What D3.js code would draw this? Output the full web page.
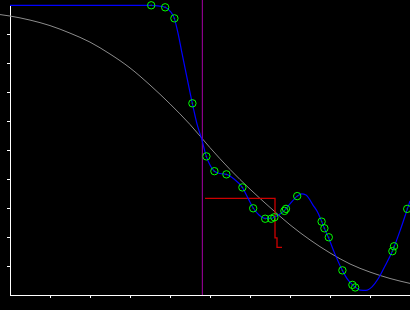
<!DOCTYPE html>
<html>
<head>
<meta charset="utf-8">
<script src="https://cdn.jsdelivr.net/npm/d3@7"></script>
<style>
  body { margin: 0; background: #000; }
  svg { display: block; }
</style>
</head>
<body>
<script>
// sample points (green circles)
var ptX = [3.53, 3.88, 4.11, 4.56, 4.91, 5.11, 5.41, 5.81, 6.08, 6.38, 6.53, 6.61,
           6.86, 6.90, 7.18, 7.79, 7.86, 7.97, 8.31, 8.56, 8.63, 9.56, 9.60, 9.93];
var ptY = [9.99, 9.92, 9.54, 6.61, 4.78, 4.27, 4.16, 3.71, 2.99, 2.63, 2.63, 2.68,
           2.90, 2.97, 3.41, 2.53, 2.30, 1.99, 0.85, 0.35, 0.26, 1.51, 1.68, 2.97];

// blue fitted curve, read along its length
var fitX = [0, 3.533, 3.70, 3.883, 4.00, 4.108, 4.20, 4.30, 4.40, 4.558, 4.675, 4.80,
            4.908, 5.00, 5.108, 5.25, 5.408, 5.60, 5.808, 5.95, 6.083, 6.225, 6.383,
            6.525, 6.618, 6.75, 6.858, 7.00, 7.183, 7.293, 7.40, 7.575, 7.70, 7.793,
            7.858, 7.958, 8.125, 8.308, 8.45, 8.558, 8.633, 8.75, 8.90, 9.05, 9.20,
            9.375, 9.558, 9.608, 9.75, 9.933, 10.0];
var fitY = [9.99, 9.99, 9.97, 9.92, 9.79, 9.54, 9.03, 8.34, 7.66, 6.61, 5.90, 5.34,
            4.78, 4.48, 4.27, 4.19, 4.16, 4.00, 3.71, 3.34, 2.99, 2.76, 2.64,
            2.64, 2.69, 2.79, 2.91, 3.14, 3.41, 3.49, 3.45, 3.10, 2.83, 2.53,
            2.30, 1.99, 1.41, 0.85, 0.52, 0.36, 0.27, 0.17, 0.16, 0.28, 0.55,
            1.00, 1.51, 1.68, 2.21, 2.96, 3.24];

// gray smooth reference curve
var refX = [-0.25, 0, 0.5, 1, 1.5, 2, 2.5, 3, 3.5, 4, 4.5, 5, 5.5, 6, 6.5, 7, 7.5, 8, 8.5, 9, 9.5, 10];
var refY = [9.67, 9.62, 9.48, 9.29, 9.03, 8.72, 8.31, 7.83, 7.24, 6.59, 5.88, 5.08,
            4.33, 3.65, 3.02, 2.42, 1.90, 1.45, 1.07, 0.79, 0.57, 0.40];

// red step line
var stepX = [4.875, 6.625, 6.625, 6.675, 6.675, 6.8];
var stepY = [3.33, 3.33, 1.97, 1.97, 1.64, 1.64];

// purple marker
var markX = 4.81;
var markTop = 10.17;

var xTicks = [1, 2, 3, 4, 5, 6, 7, 8, 9];
var yTicks = [1, 2, 3, 4, 5, 6, 7, 8, 9];

var width = 410, height = 310;
var margin = { top: 5, right: 0, bottom: 15, left: 10 };

var x = d3.scaleLinear().domain([0, 10]).range([margin.left, width - margin.right]);
var y = d3.scaleLinear().domain([0, 10]).range([height - margin.bottom, margin.top]);

var svg = d3.select("body").append("svg")
  .attr("width", width)
  .attr("height", height)
  .style("background", "#000");

// axes
var xAxis = d3.axisBottom(x).tickValues(xTicks).tickSize(3).tickSizeOuter(0).tickFormat("");
var yAxis = d3.axisLeft(y).tickValues(yTicks).tickSize(3).tickSizeOuter(0).tickFormat("");

svg.append("g")
  .attr("transform", "translate(0," + y(0) + ")")
  .call(xAxis);
svg.append("g")
  .attr("transform", "translate(" + x(0) + ",0)")
  .call(yAxis);
svg.selectAll(".domain, .tick line")
  .attr("stroke", "#fff")
  .attr("stroke-width", 1)
  .attr("shape-rendering", "crispEdges");

var line = d3.line()
  .x(function (d) { return x(d[0]); })
  .y(function (d) { return y(d[1]); });

var pts = ptX.map(function (d, i) { return [d, ptY[i]]; });

// gray curve
svg.append("path")
  .datum(refX.map(function (d, i) { return [d, refY[i]]; }))
  .attr("d", line.curve(d3.curveMonotoneX))
  .attr("fill", "none")
  .attr("stroke", "#8c8c8c")
  .attr("stroke-width", 1);

// purple vertical
svg.append("line")
  .attr("x1", x(markX)).attr("x2", x(markX))
  .attr("y1", y(0)).attr("y2", y(markTop))
  .attr("stroke", "#8a008a")
  .attr("stroke-width", 1.2);

// red step
svg.append("path")
  .datum(stepX.map(function (d, i) { return [d, stepY[i]]; }))
  .attr("d", line.curve(d3.curveLinear))
  .attr("fill", "none")
  .attr("stroke", "#cc0000")
  .attr("stroke-width", 1.3);

// blue fit
svg.append("path")
  .datum(fitX.map(function (d, i) { return [d, fitY[i]]; }))
  .attr("d", line.curve(d3.curveMonotoneX))
  .attr("fill", "none")
  .attr("stroke", "#0000ff")
  .attr("stroke-width", 1.2);

// points
svg.selectAll("circle.pt")
  .data(pts)
  .enter().append("circle")
  .attr("class", "pt")
  .attr("cx", function (d) { return x(d[0]); })
  .attr("cy", function (d) { return y(d[1]); })
  .attr("r", 3.7)
  .attr("fill", "none")
  .attr("stroke", "#00ff00")
  .attr("stroke-width", 1);

svg.selectAll("circle.ctr")
  .data(pts)
  .enter().append("circle")
  .attr("class", "ctr")
  .attr("cx", function (d) { return x(d[0]); })
  .attr("cy", function (d) { return y(d[1]); })
  .attr("r", 0.7)
  .attr("fill", "#00aa00");
</script>
</body>
</html>
